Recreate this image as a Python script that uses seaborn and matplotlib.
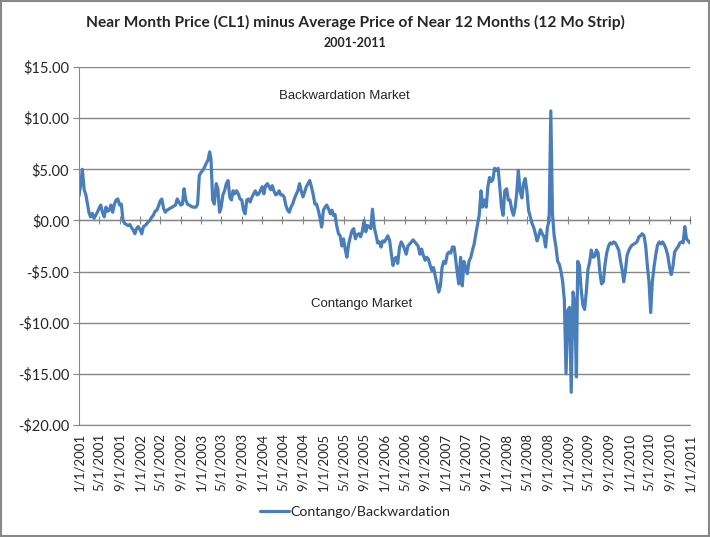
import matplotlib
matplotlib.use('Agg')
import matplotlib.pyplot as plt
import matplotlib.dates as mdates
from matplotlib.patches import Rectangle
import numpy as np
import pandas as pd
import seaborn as sns

# ===== DATA (3 readings per month: 1st, 11th, 21st) =====
years = list(range(2001, 2011))
days = [1, 11, 21]

v2001 = [2.4, 3.5, 5.0, 3.0, 2.5, 1.6, 0.8, 0.35, 0.7, 0.2, 0.5, 0.8,
         1.2, 1.5, 0.8, 0.35, 1.3, 0.9, 1.0, 1.5, 0.8, 1.6, 2.0, 2.1,
         1.5, 1.6, 0.0, -0.3, -0.4, -0.5, -0.4, -0.7, -0.95, -1.3, -0.8, -0.6]
v2002 = [-0.9, -1.3, -0.6, -0.5, -0.3, -0.1, 0.0, 0.3, 0.5, 0.9, 1.0, 1.4,
         1.9, 2.1, 1.2, 0.8, 1.0, 1.1, 1.2, 1.3, 1.4, 1.5, 2.1, 1.8,
         1.5, 1.6, 3.1, 2.0, 1.6, 1.5, 1.4, 1.3, 1.3, 1.3, 1.6, 4.4]
v2003 = [4.7, 4.9, 5.2, 5.6, 5.9, 6.7, 6.0, 2.0, 1.6, 3.6, 3.1, 0.8,
         1.3, 2.5, 2.9, 3.6, 3.9, 2.3, 2.0, 2.9, 2.6, 2.9, 2.6, 2.1,
         2.0, 1.0, 0.65, 2.0, 2.1, 1.8, 2.3, 2.6, 2.9, 2.5, 2.6, 2.9]
v2004 = [3.3, 2.6, 3.4, 3.6, 3.3, 3.0, 3.4, 2.9, 2.5, 2.6, 2.9, 2.5,
         2.5, 2.3, 1.5, 1.0, 0.8, 1.3, 1.6, 2.1, 2.5, 2.9, 3.6, 2.9,
         2.3, 2.8, 3.3, 3.6, 3.9, 3.3, 2.5, 1.6, 1.6, 1.0, 0.3, -0.65]
v2005 = [1.0, 1.3, 1.5, 1.1, 0.65, 1.0, 0.5, 0.6, -0.5, -1.3, -1.5, -2.5,
         -1.8, -2.8, -3.6, -2.3, -1.6, -1.0, -0.8, -1.8, -1.4, -1.3, -1.6, -1.1,
         0.0, -1.1, -0.5, -0.6, -0.8, 1.1, -0.7, -1.4, -2.2, -2.1, -2.6, -2.0]
v2006 = [-2.1, -1.8, -1.5, -2.0, -3.3, -4.4, -3.8, -3.6, -4.2, -2.6, -2.1, -2.4,
         -2.8, -3.3, -2.5, -2.3, -2.1, -1.9, -2.1, -2.3, -2.5, -3.3, -2.8, -3.4,
         -3.9, -3.6, -3.8, -4.4, -4.9, -4.6, -5.5, -6.2, -7.0, -6.4, -4.6, -4.0]
v2007 = [-4.2, -3.3, -3.1, -3.2, -2.6, -2.6, -3.6, -5.0, -6.2, -3.6, -6.4, -4.0,
         -4.6, -5.2, -4.0, -3.6, -2.9, -2.3, -1.3, -0.4, 0.5, 2.9, 1.3, 2.0,
         1.3, 3.3, 4.2, 3.8, 4.0, 5.1, 4.9, 5.1, 3.3, 1.3, 0.5, 2.9]
v2008 = [3.1, 2.0, 2.0, 1.0, 0.5, 1.3, 2.6, 4.9, 2.9, 2.2, 3.6, 4.1,
         2.9, 1.0, 0.4, -0.3, -0.7, -1.3, -2.0, -1.5, -0.9, -1.3, -1.6, -2.6,
         -0.65, 0.0, 10.7, 0.65, -1.5, -2.5, -4.0, -4.3, -5.0, -6.0, -7.8, -15.0]
v2009 = [-8.8, -8.5, -16.8, -7.0, -8.0, -15.3, -4.0, -4.4, -6.7, -8.3, -8.7, -7.0,
         -4.8, -4.1, -2.9, -3.6, -3.5, -2.9, -3.2, -5.0, -6.2, -6.0, -4.3, -3.2,
         -2.5, -2.2, -2.3, -2.1, -2.2, -2.5, -2.9, -3.9, -4.8, -6.0, -4.9, -3.4]
v2010 = [-2.9, -2.6, -2.4, -2.3, -2.2, -2.0, -1.6, -1.5, -1.3, -1.5, -2.5, -4.4,
         -6.0, -9.0, -6.0, -4.4, -3.3, -2.4, -2.1, -2.3, -2.1, -2.4, -2.8, -3.4,
         -4.6, -5.3, -4.5, -3.1, -2.8, -2.6, -2.2, -2.1, -2.2, -0.6, -1.8, -2.0]
v_end = -2.2  # 1/1/2011

yearly = [v2001, v2002, v2003, v2004, v2005, v2006, v2007, v2008, v2009, v2010]
dates = [pd.Timestamp(y, m, d) for y in years for m in range(1, 13) for d in days]
dates.append(pd.Timestamp(2011, 1, 1))
values = [v for yr in yearly for v in yr] + [v_end]
df = pd.DataFrame({'date': dates, 'spread': values})

tick_dates = pd.date_range('2001-01-01', '2011-01-01', freq='4MS')
tick_labels = [f'{d.month}/{d.day}/{d.year}' for d in tick_dates]
y_ticks = np.arange(-20, 16, 5)
y_labels = [('-' if v < 0 else '') + f'${abs(v):.2f}' for v in y_ticks]

title = 'Near Month Price (CL1) minus Average Price of Near 12 Months (12 Mo Strip)'
subtitle = '2001-2011'
series_name = 'Contango/Backwardation'

# ===== PLOT =====
sns.set_style('white')
plt.rcParams['font.family'] = ['Lato', 'DejaVu Sans']
GRAY = '#868686'
BLUE = '#4A7EBB'

fig = plt.figure(figsize=(7.1, 5.37), dpi=100)
ax = fig.add_axes([79 / 710, 1 - 425 / 537, 611 / 710, 358 / 537])

sns.lineplot(data=df, x='date', y='spread', ax=ax, color=BLUE, linewidth=2.3,
             label=series_name)

ax.set_xlim(pd.Timestamp('2001-01-01'), pd.Timestamp('2011-01-01'))
ax.set_ylim(-20, 15)
ax.set_yticks(y_ticks)
ax.set_yticklabels(y_labels, fontsize=10.5)
ax.set_xticks(mdates.date2num(tick_dates))
ax.set_xticklabels(tick_labels, rotation=90, fontsize=9.5)
ax.set_xlabel('')
ax.set_ylabel('')
ax.yaxis.grid(True, color=GRAY, linewidth=1)
ax.set_axisbelow(True)
for s in ['top', 'right']:
    ax.spines[s].set_visible(False)
ax.spines['left'].set_color(GRAY)
ax.spines['bottom'].set_color(GRAY)
ax.tick_params(axis='y', length=4, color=GRAY, pad=3, left=True)
ax.tick_params(axis='x', length=0, pad=6)

# horizontal axis crossing at zero with tick marks
zero_frac = (0 - (-20)) / 35
sec = ax.secondary_xaxis(zero_frac)
sec.set_xticks(mdates.date2num(tick_dates))
sec.set_xticklabels([])
sec.tick_params(length=3, color=GRAY, direction='out', bottom=True)
sec.spines['bottom'].set_color(GRAY)

ax.text(pd.Timestamp('2005-05-05'), 12.2, 'Backwardation Market', ha='center', va='center',
        family='Liberation Sans', fontsize=9.5)
ax.text(pd.Timestamp('2005-08-20'), -8.2, 'Contango Market', ha='center', va='center',
        family='Liberation Sans', fontsize=9.5)

fig.text(0.5, 1 - 22 / 537, title, ha='center', va='center', fontweight='bold', fontsize=11.2)
fig.text(0.5, 1 - 43 / 537, subtitle, ha='center', va='center', fontweight='bold', fontsize=9)

handles, labels = ax.get_legend_handles_labels()
ax.legend_.remove()
fig.legend(handles, labels, loc='center', bbox_to_anchor=(0.5, 1 - 512 / 537), frameon=False,
           fontsize=10.2, handlelength=2.0, handletextpad=0.1)

fig.patches.append(Rectangle((0.002, 0.002), 0.996, 0.996, transform=fig.transFigure,
                             fill=False, edgecolor='#888888', linewidth=1.5))

fig.savefig('out.png', dpi=100)
